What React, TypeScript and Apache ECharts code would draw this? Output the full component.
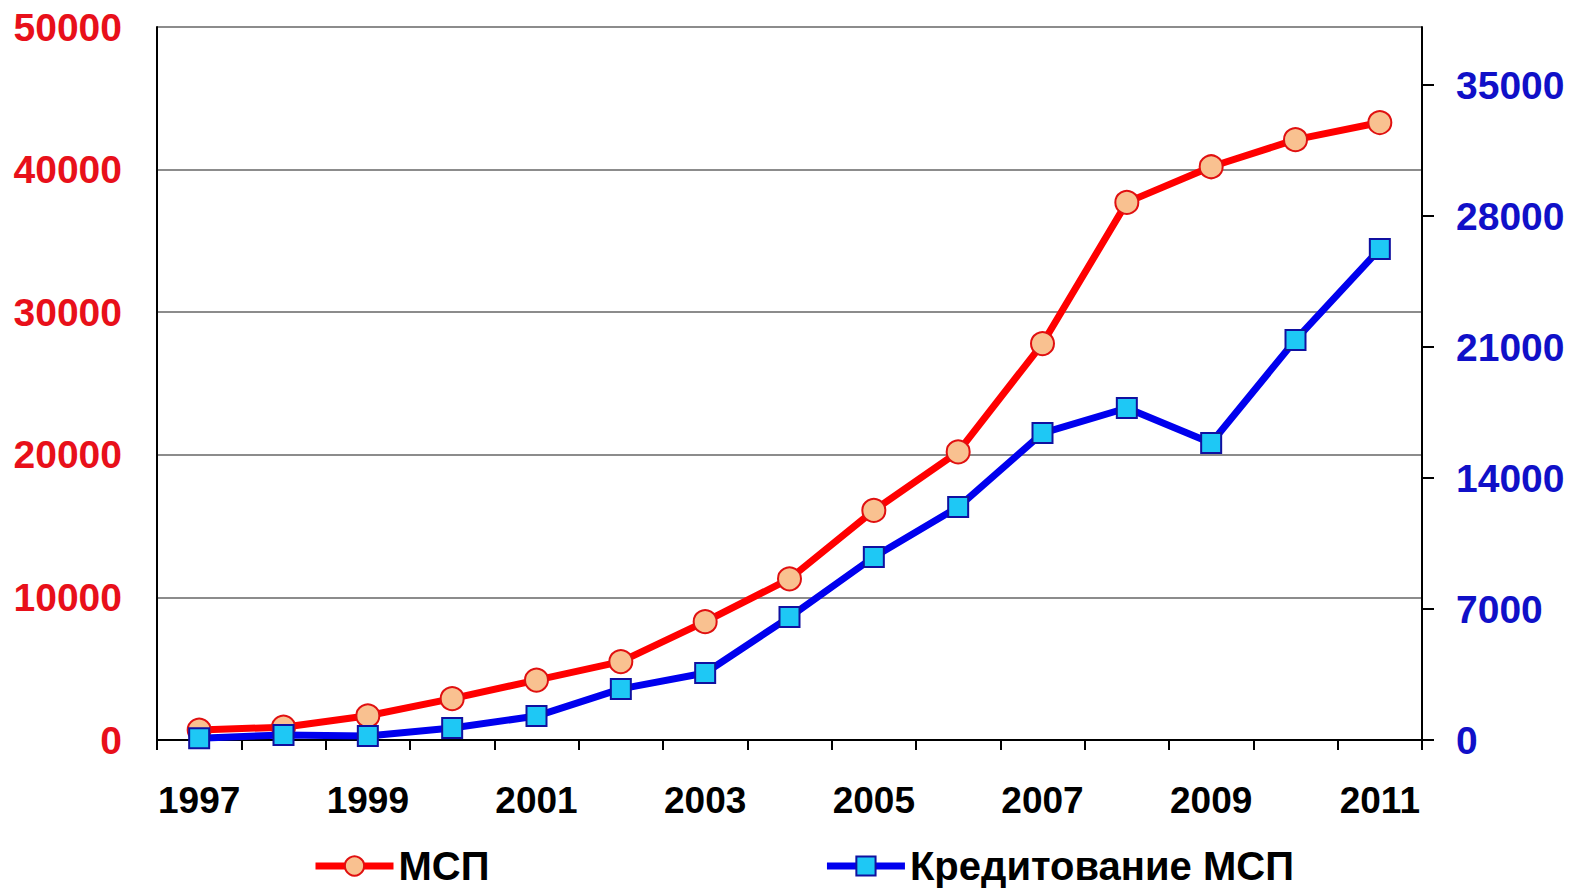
import React, { useEffect, useRef } from "react";
import * as echarts from "echarts";

const years = ["1997","1998","1999","2000","2001","2002","2003","2004","2005","2006","2007","2008","2009","2010","2011"];
const mspValues = [700, 900, 1700, 2900, 4200, 5500, 8300, 11300, 16100, 20200, 27800, 37700, 40200, 42100, 43300];
const creditValues = [100, 270, 210, 640, 1280, 2730, 3580, 6570, 9780, 12450, 16400, 17740, 15870, 21380, 26240];
const seriesNames = ["МСП", "Кредитование МСП"];

const FONT = "'Liberation Sans', Arial, sans-serif";

export default function App() {
  const ref = useRef<HTMLDivElement>(null);
  useEffect(() => {
    if (!ref.current) return;
    const chart = echarts.init(ref.current, null, { renderer: "svg" });
    const plain = (v: number) => String(v);
    chart.setOption({
      animation: false,
      backgroundColor: "#ffffff",
      grid: { left: 157, right: 151, top: 27, bottom: 148, containLabel: false },
      legend: {
        left: 307,
        top: 841,
        itemGap: 334,
        itemWidth: 78,
        itemHeight: 24,
        textStyle: { fontFamily: FONT, fontSize: 40, fontWeight: "bold", color: "#000" },
        data: [
          { name: seriesNames[0], lineStyle: { width: 7, color: "#ff0000" } },
          { name: seriesNames[1], lineStyle: { width: 7, color: "#0000ee" } },
        ],
      },
      xAxis: {
        type: "category",
        data: years,
        boundaryGap: true,
        axisLine: { lineStyle: { color: "#000", width: 2 } },
        axisTick: { show: true, interval: 0, length: 10, alignWithLabel: false, lineStyle: { color: "#000", width: 2 } },
        axisLabel: { interval: 1, margin: 42, fontFamily: FONT, fontSize: 37, fontWeight: "bold", color: "#000" },
        splitLine: { show: false },
      },
      yAxis: [
        {
          type: "value",
          min: 0,
          max: 50000,
          interval: 10000,
          position: "left",
          axisLine: { show: true, lineStyle: { color: "#000", width: 2 } },
          axisTick: { show: false },
          axisLabel: { margin: 35, formatter: plain, fontFamily: FONT, fontSize: 39, fontWeight: "bold", color: "#e8101a" },
          splitLine: { show: true, lineStyle: { color: "#8c8c8c", width: 2 } },
        },
        {
          type: "value",
          min: 0,
          max: 38100,
          interval: 7000,
          position: "right",
          axisLine: { show: true, lineStyle: { color: "#000", width: 2 } },
          axisTick: { show: true, length: 12, inside: false, lineStyle: { color: "#000", width: 2 } },
          axisLabel: { margin: 34, formatter: plain, showMaxLabel: false, fontFamily: FONT, fontSize: 39, fontWeight: "bold", color: "#1010c8" },
          splitLine: { show: false },
        },
      ],
      series: [
        {
          name: seriesNames[0],
          type: "line",
          yAxisIndex: 0,
          data: mspValues,
          symbol: "circle",
          symbolSize: 23,
          lineStyle: { color: "#ff0000", width: 7 },
          itemStyle: { color: "#f9c190", borderColor: "#e01010", borderWidth: 2 },
          z: 3,
        },
        {
          name: seriesNames[1],
          type: "line",
          yAxisIndex: 1,
          data: creditValues,
          symbol: "rect",
          symbolSize: 20,
          lineStyle: { color: "#0000ee", width: 7 },
          itemStyle: { color: "#1ec8f5", borderColor: "#1010a0", borderWidth: 2 },
          z: 4,
        },
      ],
    });
    return () => chart.dispose();
  }, []);
  return <div ref={ref} style={{ position: "absolute", left: 0, top: 0, width: 1573, height: 888 }} />;
}
